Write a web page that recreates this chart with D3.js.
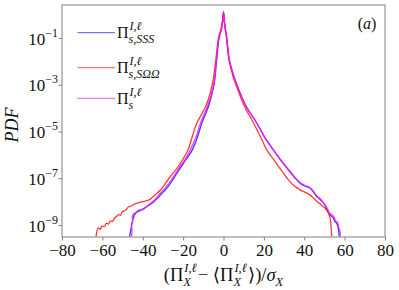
<!DOCTYPE html>
<html>
<head>
<meta charset="utf-8">
<script src="https://cdn.jsdelivr.net/npm/d3@7"></script>
<style>
  body { margin: 0; background: #fff; }
  text { font-family: "Liberation Serif", "DejaVu Serif", serif; fill: #111; }
</style>
</head>
<body>
<svg width="399" height="290"></svg>
<script>
// series: x = standardised value, y = PDF
const sssX = [-46.6,-46.1,-45.6,-45.2,-44.7,-44.0,-43.0,-41.8,-40.0,-37.5,-34.5,-31.0,-27.0,-22.0,-18.5,-15.5,-13.0,-10.8,-7.3,-4.7,-3.4,-2.2,-1.0,-0.4,0,
  0.4,1.0,1.6,2.9,5.0,6.6,11.0,16.6,20.5,24.8,29.0,32.9,35.5,37.9,40.5,42.8,44.5,46.1,48.0,50.2,51.2,52.0,53.0,54.4,55.2,56.0,56.8,57.3];
const sssY = [3.2e-10,5e-10,9e-10,1.3e-9,2.0e-9,2.8e-9,3.6e-9,4.2e-9,4.8e-9,6.5e-9,1.0e-8,2.0e-8,5.0e-8,2.3e-7,6.5e-7,1.6e-6,5.5e-6,2.2e-5,1.3e-4,1e-3,1.15e-2,0.1,0.24,0.55,1.3,
  0.55,0.22,0.1,1.15e-2,2.5e-3,1e-3,1.3e-4,2.2e-5,5.5e-6,1.6e-6,5e-7,1.9e-7,1.0e-7,6.2e-8,4.6e-8,3.8e-8,2.6e-8,1.7e-8,1.2e-8,7.2e-9,4.5e-9,3.5e-9,2.6e-9,2.0e-9,1.4e-9,1.2e-9,8e-10,3.2e-10];

const sooX = [-63.1,-62.7,-62.0,-61.0,-60.3,-59.0,-58.0,-57.0,-56.0,-55.0,-54.0,-53.0,-52.0,-51.0,-50.0,-48.5,-47.0,-45.5,-44.0,-42.0,-40.0,-38.0,-36.4,-34.0,-31.0,-27.0,-22.0,-17.6,-15.5,-13.3,-8.6,-5.6,-3.8,-2.5,-1.2,-0.5,0,
  0.4,1.0,1.5,2.7,4.6,6.2,10.2,15.0,18.5,21.5,25.0,29.0,32.9,35.5,37.9,40.5,42.8,45.0,47.0,48.0,48.8,49.5,50.5,51.5,52.5,53.0,53.3,53.6];
const sooY = [3.2e-10,5.5e-10,7.5e-10,6.5e-10,9e-10,8.5e-10,1.2e-9,1.1e-9,1.5e-9,1.4e-9,2.0e-9,2.3e-9,2.8e-9,2.6e-9,3.8e-9,4.3e-9,6.0e-9,6.5e-9,8.0e-9,9.0e-9,1.0e-8,1.1e-8,1.25e-8,1.9e-8,3.3e-8,1.0e-7,3.6e-7,1.6e-6,6e-6,2.2e-5,1.3e-4,1e-3,1.15e-2,0.1,0.25,0.55,1.25,
  0.5,0.2,0.1,1.15e-2,2.5e-3,1e-3,1.3e-4,2.2e-5,5.5e-6,1.6e-6,6e-7,2e-7,7.2e-8,4.4e-8,3.2e-8,2.5e-8,1.95e-8,1.3e-8,9e-9,8e-9,6.5e-9,6.0e-9,5e-9,3.8e-9,2.5e-9,1.5e-9,8e-10,3.2e-10];

const sX = [-45.6,-45.3,-45.6,-45.0,-45.2,-44.6,-43.8,-42.5,-41.0,-39.8,-37.5,-34.5,-31.0,-27.0,-22.0,-18.5,-16.5,-13.5,-11.5,-7.8,-4.9,-3.5,-2.3,-1.0,-0.4,0,
  0.4,1.0,1.6,2.9,5.0,6.6,11.0,16.6,20.5,24.5,29.0,32.9,35.5,37.9,40.5,42.8,44.5,46.1,48.0,50.2,51.5,52.5,53.5,54.8,55.5,56.5,57.0,57.8,57.8];
const sY = [3.2e-10,6e-10,1e-9,1.5e-9,2.2e-9,3.0e-9,3.3e-9,3.6e-9,4.2e-9,4.6e-9,6.8e-9,1.1e-8,2.4e-8,6e-8,2.8e-7,7.5e-7,1.6e-6,6e-6,2.2e-5,1.3e-4,1e-3,1.15e-2,0.1,0.25,0.55,1.3,
  0.55,0.22,0.1,1.15e-2,2.5e-3,1e-3,1.3e-4,2.2e-5,5.5e-6,1.7e-6,5.2e-7,2e-7,1.05e-7,6.5e-8,4.8e-8,4e-8,2.8e-8,1.8e-8,1.3e-8,7.5e-9,5e-9,3.2e-9,2.8e-9,2.2e-9,1.5e-9,1.3e-9,8e-10,5e-10,3.2e-10];

const xTicks = [-80,-60,-40,-20,0,20,40,60,80];
const yTickExp = [-9,-7,-5,-3,-1];

const series = [
  {x: sssX, y: sssY, color: '#1414ff', sup: 'I,ℓ', sub: 's,SSS'},
  {x: sooX, y: sooY, color: '#ff1414', sup: 'I,ℓ', sub: 's,SΩΩ'},
  {x: sX, y: sY, color: '#ff14ff', sup: 'I,ℓ', sub: 's'}
];

const mLeft = 62, mRight = 385, mTop = 5, mBottom = 237;
const svg = d3.select('svg');

const x = d3.scaleLinear().domain([-80, 80]).range([mLeft, mRight]);
const y = d3.scaleLog().domain([Math.pow(10, -9.513), Math.pow(10, 0.412)]).range([mBottom, mTop]);

svg.append('clipPath').attr('id', 'clip')
  .append('rect').attr('x', mLeft).attr('y', mTop).attr('width', mRight - mLeft).attr('height', mBottom - mTop);

const line = d3.line().x(d => x(d[0])).y(d => y(d[1])).curve(d3.curveCatmullRom.alpha(0.5));

svg.append('g').attr('clip-path', 'url(#clip)')
  .selectAll('path')
  .data(series)
  .enter().append('path')
  .attr('d', d => line(d.x.map((v, i) => [v, d.y[i]])))
  .attr('fill', 'none')
  .attr('stroke', d => d.color)
  .attr('stroke-opacity', 0.85)
  .attr('stroke-width', 1.3)
  .attr('stroke-linejoin', 'round');

// frame
svg.append('rect')
  .attr('x', mLeft).attr('y', mTop).attr('width', mRight - mLeft).attr('height', mBottom - mTop)
  .attr('fill', 'none').attr('stroke', '#808080').attr('stroke-width', 1);

// x axis
const xAxis = d3.axisBottom(x).tickValues(xTicks).tickSize(3.5).tickPadding(3)
  .tickFormat(d => d < 0 ? '\u2212' + Math.abs(d) : d);
const gx = svg.append('g').attr('transform', `translate(0,${mBottom})`).call(xAxis);
gx.select('.domain').remove();
gx.selectAll('line').attr('stroke', '#808080');
gx.selectAll('text').attr('font-size', 17).attr('font-family', '"Liberation Serif", serif').attr('fill', '#111');

// y axis
const yAxis = d3.axisLeft(y).tickValues(yTickExp.map(e => Math.pow(10, e))).tickSize(3.5).tickFormat('');
const gy = svg.append('g').attr('transform', `translate(${mLeft},0)`).call(yAxis);
gy.select('.domain').remove();
gy.selectAll('line').attr('stroke', '#808080');
gy.selectAll('.tick').each(function (d) {
  const e = Math.round(Math.log10(d));
  const t = d3.select(this).append('text')
    .attr('x', -4).attr('y', 6).attr('text-anchor', 'end')
    .attr('font-size', 17);
  t.append('tspan').text('10');
  t.append('tspan').attr('font-size', 12).attr('dy', -8).text('\u2212' + Math.abs(e));
});

// math-like text laid out piece by piece
function mathText(sel, x0, y0, parts, anchor) {
  const g = sel.append('g');
  let cx = 0;
  parts.forEach(p => {
    if (p.sup !== undefined || p.sub !== undefined) {
      let w = 0;
      if (p.sup) {
        const t = g.append('text').attr('x', cx + (p.supDx || 0)).attr('y', -(p.up || 8))
          .attr('font-size', p.size || 11).attr('font-style', 'italic').text(p.sup);
        w = Math.max(w, t.node().getComputedTextLength() + (p.supDx || 0));
      }
      if (p.sub) {
        const t = g.append('text').attr('x', cx).attr('y', p.down || 5)
          .attr('font-size', p.size || 11).attr('font-style', 'italic').text(p.sub);
        w = Math.max(w, t.node().getComputedTextLength());
      }
      cx += w + 1;
    } else {
      const t = g.append('text').attr('x', cx).attr('y', 0)
        .attr('font-size', p.size).attr('font-style', p.italic ? 'italic' : 'normal').text(p.t);
      cx += t.node().getComputedTextLength();
    }
  });
  const off = anchor === 'middle' ? -cx / 2 : anchor === 'end' ? -cx : 0;
  g.attr('transform', `translate(${x0 + off},${y0})`);
  return g;
}

// legend
const legendY = [32.7, 67.7, 98.3];
series.forEach((s, i) => {
  svg.append('line')
    .attr('x1', 77.5).attr('x2', 115).attr('y1', legendY[i]).attr('y2', legendY[i])
    .attr('stroke', s.color).attr('stroke-opacity', 0.6).attr('stroke-width', 1.3);
  mathText(svg, 117, legendY[i] + 5.5, [
    {t: '\u03A0', size: 16},
    {sup: s.sup, sub: s.sub, size: 12, up: 8, down: 5, supDx: 1}
  ], 'start');
});

// x label
mathText(svg, 224, 281, [
  {t: '(\u03A0', size: 18.5},
  {sup: 'I,ℓ', sub: 'X', size: 12.5, up: 9, down: 5, supDx: 1},
  {t: ' \u2212 \u27E8\u03A0', size: 18.5},
  {sup: 'I,ℓ', sub: 'X', size: 12.5, up: 9, down: 5, supDx: 1},
  {t: '\u27E9)/', size: 18.5},
  {t: 'σ', size: 18.5, italic: true},
  {sub: 'X', size: 12.5, down: 5}
], 'middle');

// y label
svg.append('text')
  .attr('transform', 'translate(18,125) rotate(-90)')
  .attr('text-anchor', 'middle')
  .attr('font-size', 18).attr('font-style', 'italic')
  .text('PDF');

// panel tag
svg.append('text')
  .attr('x', 367).attr('y', 29).attr('text-anchor', 'middle')
  .attr('font-size', 16)
  .html('(<tspan font-style="italic">a</tspan>)');
</script>
</body>
</html>
